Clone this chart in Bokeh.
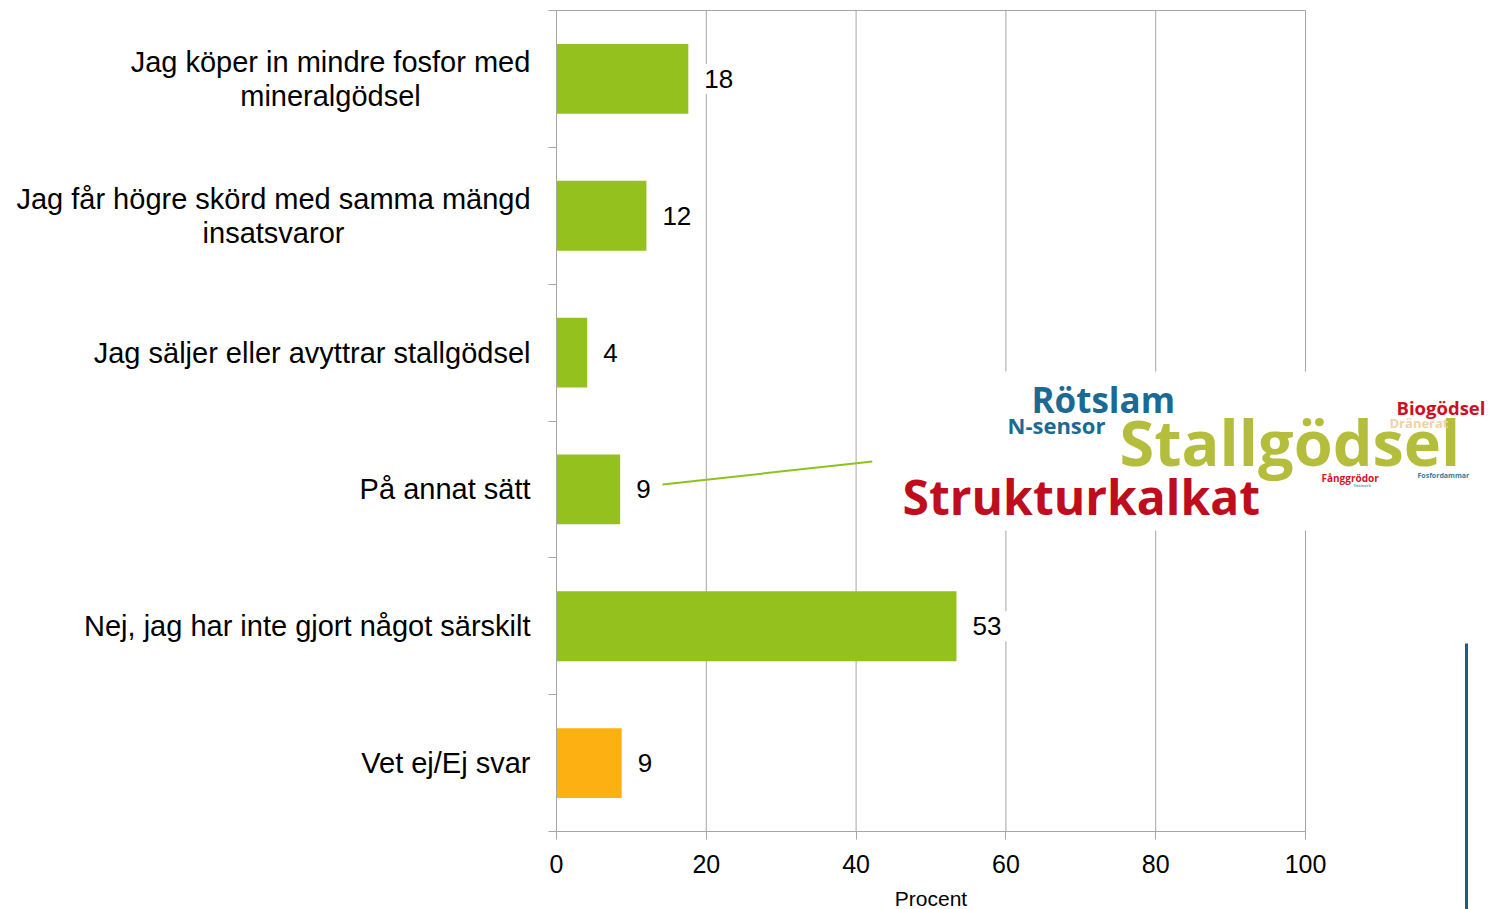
from bokeh.plotting import figure
from bokeh.models import (Range1d, FixedTicker, Label, BoxAnnotation, Arrow,
                          ColumnDataSource)
from bokeh.embed import file_html
from bokeh.resources import INLINE

# ---------------- data ----------------
categories = [
    "Jag köper in mindre fosfor med\nmineralgödsel",
    "Jag får högre skörd med samma mängd\ninsatsvaror",
    "Jag säljer eller avyttrar stallgödsel",
    "På annat sätt",
    "Nej, jag har inte gjort något särskilt",
    "Vet ej/Ej svar",
]
values = [17.6, 12.0, 4.1, 8.5, 53.4, 8.7]
value_labels = ["18", "12", "4", "9", "53", "9"]
bar_colors = ["#95c11f", "#95c11f", "#95c11f", "#95c11f", "#95c11f", "#fdb012"]
x_ticks = [0, 20, 40, 60, 80, 100]
x_title = "Procent"

cloud_words = ["Rötslam", "N-sensor", "Stallgödsel", "Strukturkalkat", "Biogödsel",
               "Dränerat", "Fånggrödor", "Fosfordammar", "Våtmark"]
cloud_colors = ["#1b6a94", "#1b6a94", "#b5bd3d", "#c00d1e", "#cc0f23",
                "#f0d2a6", "#d4142a", "#2e7ea6", "#6aa6c8"]
cloud_sizes = [35, 22, 63, 48, 18.5, 13, 10, 7, 4]

# ---------------- layout (screen pixels) ----------------
W, H = 1492, 909
FRAME_L, FRAME_R, FRAME_T, FRAME_B = 556, 1305, 10, 831
LABEL_RIGHT = 530          # right edge of the category labels
LINE_GAP = 34              # line distance in two-line labels
block_cx = [330, 273, None, None, None, None]   # centre of two-line label blocks
# word cloud: (left, baseline) of each word
cloud_px = [(1031, 414), (1007, 434), (1119, 467), (902, 516), (1396, 415),
            (1389, 428), (1321, 482), (1417, 478), (1353, 487)]

n = len(categories)
XS = (FRAME_R - FRAME_L) / 100.0
YS = (FRAME_B - FRAME_T) / float(n)


def px_x(sx):
    return (sx - FRAME_L) / XS


def px_y(sy):
    return (FRAME_B - sy) / YS


centers = [n - 0.5 - i for i in range(n)]

p = figure(width=W, height=H, x_range=Range1d(px_x(0), px_x(W)),
           y_range=Range1d(px_y(H), px_y(0)),
           output_backend="svg", toolbar_location=None,
           min_border=0, min_border_left=0, min_border_right=0,
           min_border_top=0, min_border_bottom=0)
p.outline_line_color = None
p.background_fill_color = "white"
p.border_fill_color = "white"
p.grid.visible = False

# vertical grid lines (0..n in y) and the top border
p.segment(x0=x_ticks, y0=[0] * len(x_ticks), x1=x_ticks, y1=[n] * len(x_ticks),
          line_color="#a6a6a6", line_width=1)
p.segment(x0=[0], y0=[n], x1=[x_ticks[-1]], y1=[n], line_color="#a6a6a6", line_width=1)

src = ColumnDataSource(dict(y=centers, right=values, color=bar_colors))
p.hbar(y="y", left=0, right="right", height=0.51, fill_color="color",
       line_color=None, source=src)

# x axis
xa = p.xaxis[0]
xa.fixed_location = 0
xa.bounds = (0, 100)
xa.ticker = FixedTicker(ticks=x_ticks)
xa.axis_line_color = "#a6a6a6"
xa.major_tick_line_color = "#a6a6a6"
xa.major_tick_out = 8
xa.major_tick_in = 0
xa.minor_tick_line_color = None
xa.major_label_text_font = "Liberation Sans"
xa.major_label_text_font_size = "25px"
xa.major_label_text_color = "black"
xa.major_label_standoff = 15
xa.axis_label = x_title
xa.axis_label_text_font = "Liberation Sans"
xa.axis_label_text_font_size = "21px"
xa.axis_label_text_font_style = "normal"
xa.axis_label_text_color = "black"
xa.axis_label_standoff = 11

# y axis: line plus boundary ticks
ya = p.yaxis[0]
ya.fixed_location = 0
ya.bounds = (0, n)
ya.ticker = FixedTicker(ticks=[], minor_ticks=list(range(n + 1)))
ya.axis_line_color = "#a6a6a6"
ya.major_tick_line_color = None
ya.major_label_text_font_size = "0px"
ya.minor_tick_line_color = "#a6a6a6"
ya.minor_tick_out = 8
ya.minor_tick_in = 0

# category labels
for i, (cat, c) in enumerate(zip(categories, centers)):
    lines = cat.split("\n")
    if len(lines) == 1:
        p.add_layout(Label(x=px_x(LABEL_RIGHT), y=c, text=cat, text_align="right",
                           text_baseline="middle", text_font="Liberation Sans",
                           text_font_size="29px", text_color="black"))
    else:
        k = len(lines)
        for j, line in enumerate(lines):
            dy = ((k - 1) / 2.0 - j) * LINE_GAP / YS
            p.add_layout(Label(x=px_x(block_cx[i]), y=c + dy, text=line,
                               text_align="center", text_baseline="middle",
                               text_font="Liberation Sans", text_font_size="29px",
                               text_color="black"))

# value labels
for v, c, lab in zip(values, centers, value_labels):
    p.add_layout(Label(x=v, y=c, x_offset=10, text=lab, text_align="left",
                       text_baseline="middle", text_font="Liberation Sans",
                       text_font_size="26px", text_color="black",
                       background_fill_color="white", background_fill_alpha=1.0,
                       padding=6))

# callout line to the word cloud
p.segment(x0=[px_x(662)], y0=[px_y(484)], x1=[px_x(872)], y1=[px_y(461)],
          line_color="#8dc21f", line_width=2)

# word cloud background
p.add_layout(BoxAnnotation(left=px_x(872), right=px_x(1492), bottom=px_y(530),
                           top=px_y(371), fill_color="white", fill_alpha=1.0,
                           line_color=None))

for w, col, sz, (sx, sy) in zip(cloud_words, cloud_colors, cloud_sizes, cloud_px):
    p.add_layout(Label(x=px_x(sx), y=px_y(sy - 0.42 * sz), text=w, text_color=col,
                       text_font="Open Sans", text_font_style="bold",
                       text_font_size=f"{sz}px", text_align="left",
                       text_baseline="alphabetic"))

# vertical decorative line on the right
p.add_layout(Arrow(end=None, start=None, x_start=px_x(1466), y_start=px_y(643),
                   x_end=px_x(1466), y_end=px_y(H), line_color="#1d5f80",
                   line_width=3))

open("out.html", "w").write(file_html(p, INLINE))
